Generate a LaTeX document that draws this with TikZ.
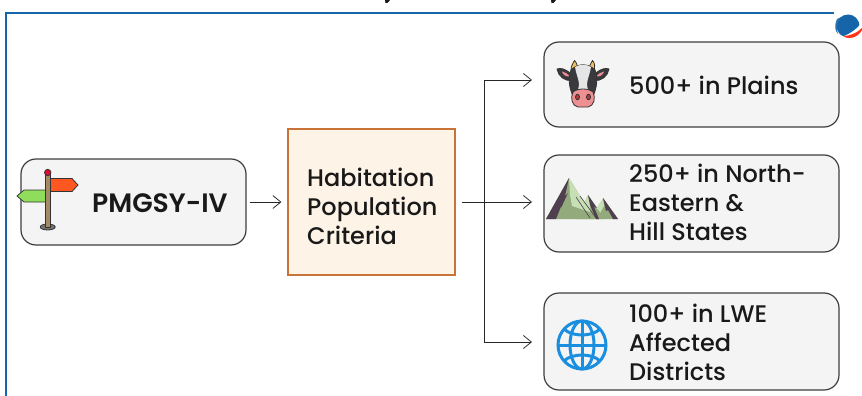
\documentclass[tikz,border=0pt]{standalone}
\usepackage{fontspec}
\setmainfont{Poppins Medium}
\newfontfamily\boldf{Poppins SemiBold}
\usetikzlibrary{arrows.meta}
\definecolor{frameblue}{HTML}{1565A8}
\definecolor{boxfill}{HTML}{F4F4F4}
\definecolor{boxline}{HTML}{3E3E3E}
\tikzset{
  card/.style={draw=boxline,line width=1.2pt,fill=boxfill,rounded corners=15pt,inner sep=0pt},
  hab/.style={draw=habline,line width=1.2pt,fill=habfill,inner sep=0pt},
  label/.style={align=left,anchor=west,inner sep=0pt,font=\fontsize{24}{29}\selectfont,text=black!90},
  conn/.style={line width=0.75pt,black!85,-{Straight Barb[length=8pt,width=13pt,line width=0.75pt]}},
  plain/.style={line width=0.75pt,black!85},
  ink/.style={draw=black!80,line width=0.8pt,line join=round},
}
\definecolor{habfill}{HTML}{FDF3E6}
\definecolor{habline}{HTML}{C87436}
\begin{document}
\begin{tikzpicture}[x=1pt,y=-1pt]
\useasboundingbox (0,0) rectangle (862,396);
\fill[white] (0,0) rectangle (862,396);
% frame
\draw[frameblue,line width=2pt] (6,396) -- (6,13) -- (834,13);
% cut-off title descenders
\fill[black!90] (385,0) -- (390,0) -- (387.5,3) -- (385.5,3) -- cycle;
\fill[black!90] (551,0) -- (556,0) -- (553.5,3) -- (551.5,3) -- cycle;
% boxes
\node[card,minimum width=225pt,minimum height=86pt] (pm) at (133.5,202) {};
\node[hab,minimum width=167pt,minimum height=146pt] (hb) at (371.5,202) {};
\node[card,minimum width=295pt,minimum height=85pt] (b1) at (691.5,84.5) {};
\node[card,minimum width=295pt,minimum height=97pt] (b2) at (691.5,203.5) {};
\node[card,minimum width=295pt,minimum height=97pt] (b3) at (691.5,341.5) {};
% text
\node[label,font=\fontsize{26.6}{29}\selectfont\boldf] (t0) at (92,203) {PMGSY-IV};
\node[label] (t1) at (307,206) {Habitation\\Population\\Criteria};
\node[label] (t2) at (629,85) {500+ in Plains};
\node[label] (t3) at (629,202) {250+ in North-\\Eastern \&\\Hill States};
\node[label] (t4) at (629,342) {100+ in LWE\\Affected\\Districts};
% connectors
\coordinate (trunk) at (484,202);
\coordinate (a1) at (532,80);
\coordinate (a2) at (532,202);
\coordinate (a3) at (532,342);
\draw[conn,shorten <=3pt,shorten >=6pt] (pm.east) -- (hb.west);
\draw[plain,shorten <=6pt] (hb.east) -- (trunk);
\draw[conn] (trunk) -- (a2);
\draw[conn] (trunk) |- (a1);
\draw[conn] (trunk) |- (a3);
% signpost
\draw[ink,fill=black!55] (47.7,227) ellipse (7.5 and 3);
\draw[ink,fill={rgb,255:red,255;green,87;blue,34}] (50,178.5) -- (72,178.5) -- (78,185) -- (72,191.5) -- (50,191.5) -- cycle;
\draw[ink,fill={rgb,255:red,143;green,221;blue,90}] (46,190) -- (24,190) -- (17,196) -- (24,202) -- (46,202) -- cycle;
\draw[ink,fill={rgb,255:red,166;green,138;blue,100}] (45.5,173) rectangle (50,227);
\draw[ink,fill={rgb,255:red,226;green,10;blue,50}] (47.7,172.5) circle (3.2);
% cow
\definecolor{cowdk}{HTML}{3A3A3E}
\definecolor{cowpk}{HTML}{EE8F92}
\draw[ink,fill=cowdk] (571,74) .. controls (565,68) and (560,68) .. (557,69) .. controls (558,76) and (565,82) .. (572,80) -- cycle;
\draw[ink,fill=cowdk] (595,74) .. controls (601,68) and (606,68) .. (609,69) .. controls (608,76) and (601,82) .. (594,80) -- cycle;
\fill[cowpk] (562,71.5) .. controls (565,72) and (568,74) .. (570,76.5) .. controls (566,77) and (563,75) .. (562,71.5) -- cycle;
\fill[cowpk] (604,71.5) .. controls (601,72) and (598,74) .. (596,76.5) .. controls (600,77) and (603,75) .. (604,71.5) -- cycle;
\draw[ink,fill={rgb,255:red,240;green,190;blue,100}] (571,70) .. controls (571,66) and (573,63) .. (574.5,60.5) .. controls (577,63) and (578,67) .. (577,70) -- cycle;
\draw[ink,fill={rgb,255:red,240;green,190;blue,100}] (589,70) .. controls (589,66) and (591,63) .. (592.5,60.5) .. controls (595,63) and (595,67) .. (594.5,70) -- cycle;
\draw[ink,fill=cowdk] (571,70) .. controls (578,63) and (588,63) .. (595,70) .. controls (598,78) and (597,88) .. (593,96) -- (573,96) .. controls (569,88) and (568,78) .. (571,70) -- cycle;
\fill[white!90!black] (575,67) .. controls (580,64) and (586,64) .. (591,67) .. controls (590,74) and (587.5,78) .. (587,84) .. controls (587,88) and (589,91) .. (589,95) -- (577,95) .. controls (577,91) and (579,88) .. (579,84) .. controls (578.5,78) and (576,74) .. (575,67) -- cycle;
\draw[ink,fill=cowpk] (573,92) .. controls (578,88) and (588,88) .. (593,92) .. controls (596,98) and (594,106) .. (588,107) -- (578,107) .. controls (572,106) and (570,98) .. (573,92) -- cycle;
\draw[ink,fill=cowpk!60!red!70!black] (577.5,97) ellipse (2 and 2.8);
\draw[ink,fill=cowpk!60!red!70!black] (588.5,97) ellipse (2 and 2.8);
% mountains
\definecolor{mlt}{HTML}{C6DFB5}
\definecolor{mmd}{HTML}{93AB7C}
\definecolor{mdk}{HTML}{4F3F4F}
\fill[mmd] (595,219) -- (603,198) -- (618,219) -- cycle;
\fill[mlt] (603,198) -- (597,207) -- (600,213) -- (604,206) -- cycle;
\fill[mdk] (603,198) -- (618,219) -- (613,219) -- (608,210) -- (606,211) -- cycle;
\fill[mmd] (577,219) -- (588,195) -- (604,219) -- cycle;
\fill[mlt] (588,195) -- (584,203) -- (590,214) -- (590,204) -- cycle;
\fill[mdk] (588,195) -- (597,208) -- (594,207) -- (599,219) -- (596,219) -- (590,205) -- cycle;
\fill[mmd] (546,219) -- (569,178) -- (594,219) -- cycle;
\fill[mlt] (569,178) -- (590,212) -- (578,208) -- (572,206) -- (570,195) -- cycle;
\fill[mdk] (546,219) -- (569,178) -- (565,196) -- (568,193) -- (561,208) -- (562,204) -- (556,219) -- cycle;
\draw[mdk,line width=.6pt] (580,196) -- (596,218) (576,197) -- (590,218);
% globe
\definecolor{gb}{HTML}{1A8FE0}
\begin{scope}[gb,line width=3pt]
\draw (582,345) circle (24);
\draw (582,321) -- (582,369);
\draw (558,345) -- (606,345);
\draw (582,345) ellipse (12 and 24);
\draw (564,329) .. controls (572,337) and (592,337) .. (600,329);
\draw (564,361) .. controls (572,353) and (592,353) .. (600,361);
\end{scope}
% logo
\fill[frameblue] (848,26) circle (11.5);
\fill[white] (838,38) .. controls (846,36) and (856,31) .. (862,22) -- (862,40) -- (838,40) -- cycle;
\fill[frameblue!90] (837,19) .. controls (834,26) and (835,31) .. (838,34) .. controls (836,28) and (836,23) .. (841,17) -- cycle;
\fill[red!75!orange!90] (843,36) .. controls (850,36) and (857,33) .. (862,28) -- (862,30) .. controls (858,38) and (848,40) .. (843,36) -- cycle;
\end{tikzpicture}
\end{document}
